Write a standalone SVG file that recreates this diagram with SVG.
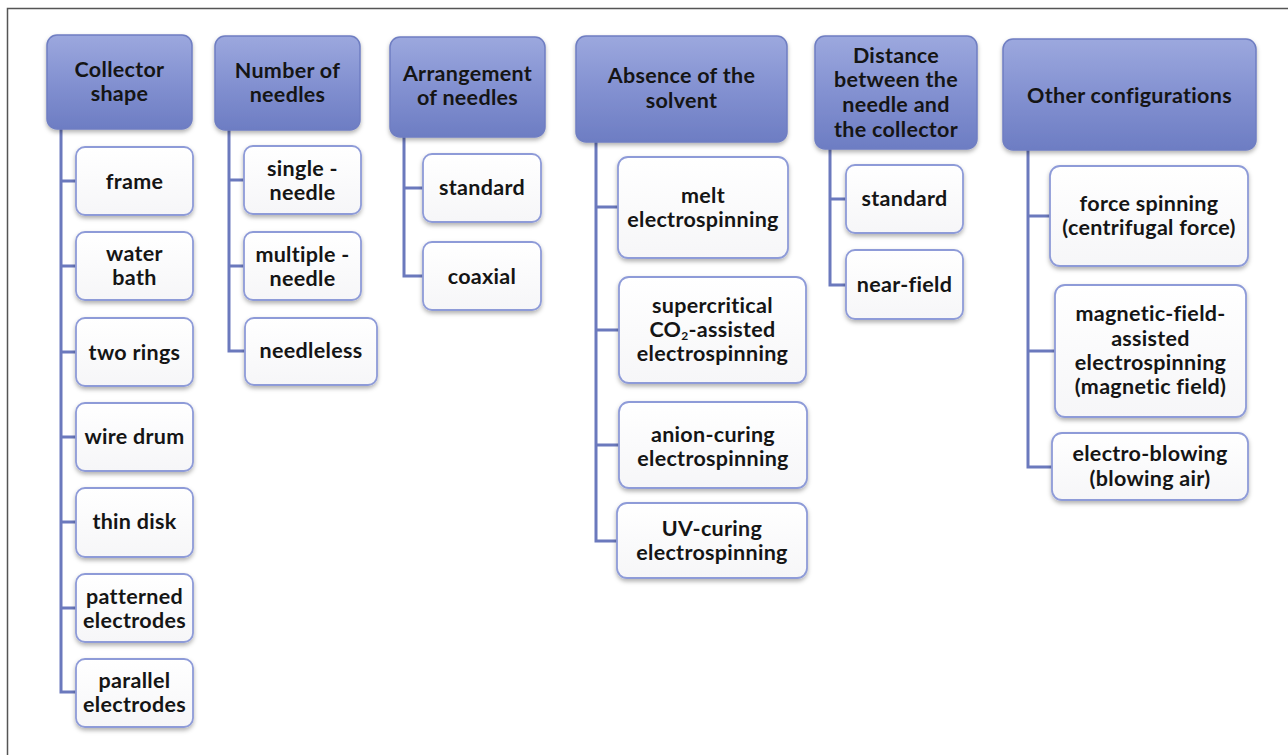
<svg xmlns="http://www.w3.org/2000/svg" width="1288" height="755" viewBox="0 0 1288 755">
<defs>
<linearGradient id="hg" x1="0" y1="0" x2="0" y2="1">
<stop offset="0" stop-color="#9ca8de"/>
<stop offset="0.5" stop-color="#8391d1"/>
<stop offset="1" stop-color="#6d7dc3"/>
</linearGradient>
<linearGradient id="cg" x1="0" y1="0" x2="0" y2="1">
<stop offset="0" stop-color="#ffffff"/>
<stop offset="1" stop-color="#f6f6f8"/>
</linearGradient>
<filter id="sh" x="-10%" y="-10%" width="120%" height="130%">
<feDropShadow dx="0" dy="2.5" stdDeviation="2" flood-color="#000" flood-opacity="0.3"/>
</filter>
</defs>
<style>
.h{fill:url(#hg);stroke:#6f7ec2;stroke-width:1.5;filter:url(#sh)}
.c{fill:url(#cg);stroke:#8e9bd8;stroke-width:1.8;filter:url(#sh)}
text{font-family:Lato,"Open Sans","Liberation Sans",sans-serif;font-weight:bold;font-size:21.5px;letter-spacing:0.3px;fill:#151515;text-anchor:middle}
.sub{font-size:12px}
#connectors path{fill:none;stroke:#6b79bd;stroke-width:3}
</style>
<rect width="1288" height="755" fill="#ffffff"/>
<rect x="7.5" y="8.5" width="1320" height="800" fill="none" stroke="#555555" stroke-width="1.5"/>

<g id="connectors">
<path d="M61 129 V692 H76 M61 181 H76 M61 266 H76 M61 352 H76 M61 437 H76 M61 522 H76 M61 608 H76"/>
<path d="M229 130 V351 H245 M229 180 H244 M229 266 H244"/>
<path d="M404 137 V276 H423 M404 188 H423"/>
<path d="M596 142 V541 H617 M596 207 H618 M596 330 H619 M596 445 H619"/>
<path d="M830 149 V285 H846 M830 199 H846"/>
<path d="M1028 150 V467 H1052 M1028 216 H1050 M1028 351 H1055"/>
</g>

<g id="h1"><rect class="h" x="47" y="35" width="145" height="94" rx="10"/><text x="119.5" y="77">Collector</text><text x="119.5" y="101">shape</text></g>
<g id="h2"><rect class="h" x="215" y="36" width="145" height="94" rx="10"/><text x="287.5" y="78">Number of</text><text x="287.5" y="102">needles</text></g>
<g id="h3"><rect class="h" x="390" y="37" width="155" height="100" rx="10"/><text x="467.5" y="81">Arrangement</text><text x="467.5" y="105">of needles</text></g>
<g id="h4"><rect class="h" x="576" y="36" width="211" height="106" rx="10"/><text x="681.5" y="83">Absence of the</text><text x="681.5" y="108">solvent</text></g>
<g id="h5"><rect class="h" x="815" y="36" width="162" height="113" rx="10"/><text x="896" y="63">Distance</text><text x="896" y="87">between the</text><text x="896" y="112">needle and</text><text x="896" y="137">the collector</text></g>
<g id="h6"><rect class="h" x="1003" y="39" width="253" height="111" rx="10"/><text x="1129.5" y="103">Other configurations</text></g>

<g id="c1"><rect class="c" x="76" y="147" width="117" height="68" rx="9"/><text x="134.5" y="189">frame</text></g>
<g id="c2"><rect class="c" x="76" y="232" width="117" height="68" rx="9"/><text x="134.5" y="261">water</text><text x="134.5" y="285">bath</text></g>
<g id="c3"><rect class="c" x="76" y="318" width="117" height="68" rx="9"/><text x="134.5" y="360">two rings</text></g>
<g id="c4"><rect class="c" x="76" y="403" width="117" height="68" rx="9"/><text x="134.5" y="444">wire drum</text></g>
<g id="c5"><rect class="c" x="76" y="488" width="117" height="69" rx="9"/><text x="134.5" y="529">thin disk</text></g>
<g id="c6"><rect class="c" x="76" y="574" width="117" height="68" rx="9"/><text x="134.5" y="604">patterned</text><text x="134.5" y="628">electrodes</text></g>
<g id="c7"><rect class="c" x="76" y="659" width="117" height="68" rx="9"/><text x="134.5" y="688">parallel</text><text x="134.5" y="712">electrodes</text></g>

<g id="c8"><rect class="c" x="244" y="146" width="117" height="68" rx="9"/><text x="302.5" y="176">single -</text><text x="302.5" y="200">needle</text></g>
<g id="c9"><rect class="c" x="244" y="232" width="117" height="68" rx="9"/><text x="302.5" y="262">multiple -</text><text x="302.5" y="286">needle</text></g>
<g id="c10"><rect class="c" x="245" y="318" width="132" height="67" rx="9"/><text x="311" y="358">needleless</text></g>

<g id="c11"><rect class="c" x="423" y="154" width="118" height="68" rx="9"/><text x="482" y="195">standard</text></g>
<g id="c12"><rect class="c" x="423" y="242" width="118" height="68" rx="9"/><text x="482" y="284">coaxial</text></g>

<g id="c13"><rect class="c" x="618" y="157" width="170" height="101" rx="10"/><text x="703" y="203">melt</text><text x="703" y="227">electrospinning</text></g>
<g id="c14"><rect class="c" x="619" y="277" width="187" height="106" rx="10"/><text x="712.5" y="313">supercritical</text><text x="712.5" y="337">CO<tspan class="sub" dy="2.5">2</tspan><tspan dy="-2.5">-assisted</tspan></text><text x="712.5" y="361">electrospinning</text></g>
<g id="c15"><rect class="c" x="619" y="402" width="188" height="86" rx="10"/><text x="713" y="442">anion-curing</text><text x="713" y="466">electrospinning</text></g>
<g id="c16"><rect class="c" x="617" y="503" width="190" height="75" rx="10"/><text x="712" y="536">UV-curing</text><text x="712" y="560">electrospinning</text></g>

<g id="c17"><rect class="c" x="846" y="165" width="117" height="68" rx="9"/><text x="904.5" y="206">standard</text></g>
<g id="c18"><rect class="c" x="846" y="250" width="117" height="69" rx="9"/><text x="904.5" y="292">near-field</text></g>

<g id="c19"><rect class="c" x="1050" y="166" width="198" height="100" rx="10"/><text x="1149" y="211">force spinning</text><text x="1149" y="235">(centrifugal force)</text></g>
<g id="c20"><rect class="c" x="1055" y="285" width="191" height="132" rx="10"/><text x="1150.5" y="321">magnetic-field-</text><text x="1150.5" y="346">assisted</text><text x="1150.5" y="370">electrospinning</text><text x="1150.5" y="394">(magnetic field)</text></g>
<g id="c21"><rect class="c" x="1052" y="433" width="196" height="67" rx="10"/><text x="1150" y="461">electro-blowing</text><text x="1150" y="486">(blowing air)</text></g>
</svg>
